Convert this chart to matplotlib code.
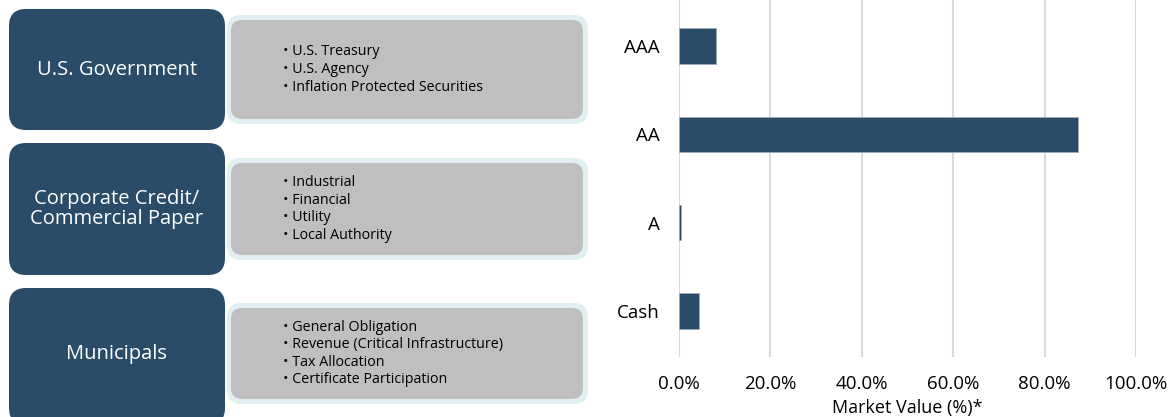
import matplotlib.pyplot as plt
from matplotlib.patches import FancyBboxPatch

# chart data
ratings = ['AAA', 'AA', 'A', 'Cash']
market_value = [8.2, 87.2, 0.4, 4.3]   # percent of market value

# sector descriptions on the left
sectors = ['U.S. Government', 'Corporate Credit/\nCommercial Paper', 'Municipals']
sector_items = [
    ['U.S. Treasury', 'U.S. Agency', 'Inflation Protected Securities'],
    ['Industrial', 'Financial', 'Utility', 'Local Authority'],
    ['General Obligation', 'Revenue (Critical Infrastructure)', 'Tax Allocation',
     'Certificate Participation'],
]

navy = '#2B4C69'
gray = '#BFBFBF'
halo = '#E2EFF1'

plt.rcParams['font.family'] = ['Open Sans', 'DejaVu Sans']

W, H = 1169, 417
fig = plt.figure(figsize=(W / 100, H / 100), dpi=100)

# overlay in pixel coordinates for the boxes
bg = fig.add_axes([0, 0, 1, 1])
bg.set_xlim(0, W)
bg.set_ylim(H, 0)
bg.axis('off')

# (dark top, dark bottom, gray top, gray bottom)
rows = [(9, 130, 20, 119), (143, 275, 163, 255), (288, 425, 308, 399)]
for (dt, db, gt, gb), name, items in zip(rows, sectors, sector_items):
    # light halo round the gray box
    bg.add_patch(FancyBboxPatch((227, gt - 5), 361, gb - gt + 10,
                                boxstyle='round,pad=0,rounding_size=14',
                                fc=halo, ec='none'))
    bg.add_patch(FancyBboxPatch((231, gt), 352, gb - gt,
                                boxstyle='round,pad=0,rounding_size=11',
                                fc=gray, ec='none'))
    bg.add_patch(FancyBboxPatch((9, dt), 216, db - dt,
                                boxstyle='round,pad=0,rounding_size=17',
                                fc=navy, ec='none'))
    cy = (dt + min(db, 420)) / 2
    bg.text(117, cy, name, color='white', fontsize=14.5, ha='center',
            va='center', linespacing=1.0)
    n = len(items)
    mid = (gt + gb) / 2
    step = 17.6
    for i, it in enumerate(items):
        y = mid + (i - (n - 1) / 2) * step
        bg.text(283, y, '\u2022 ' + it, color='black', fontsize=10.3,
                ha='left', va='center')

# bar chart
ax = fig.add_axes([679 / W, 1 - 357 / H, 457 / W, 357 / H])
ax.barh(ratings, market_value, height=0.4, color=navy,
        edgecolor='#9AAABB', linewidth=0.6, zorder=3)
ax.set_ylim(3.52, -0.52)
ax.set_xlim(0, 100)
ax.set_xticks([0, 20, 40, 60, 80, 100])
ax.set_xticklabels(['0.0%', '20.0%', '40.0%', '60.0%', '80.0%', '100.0%'])
ax.grid(axis='x', color='#D9D9D9', linewidth=1.5, zorder=0)
for s in ax.spines.values():
    s.set_visible(False)
ax.tick_params(length=0, labelsize=13.5, colors='black')
ax.tick_params(axis='y', pad=14)
ax.tick_params(axis='x', pad=13)
ax.set_xlabel('Market Value (%)*', fontsize=13, labelpad=4)
ax.set_facecolor('none')

fig.savefig('out.png', dpi=100)
